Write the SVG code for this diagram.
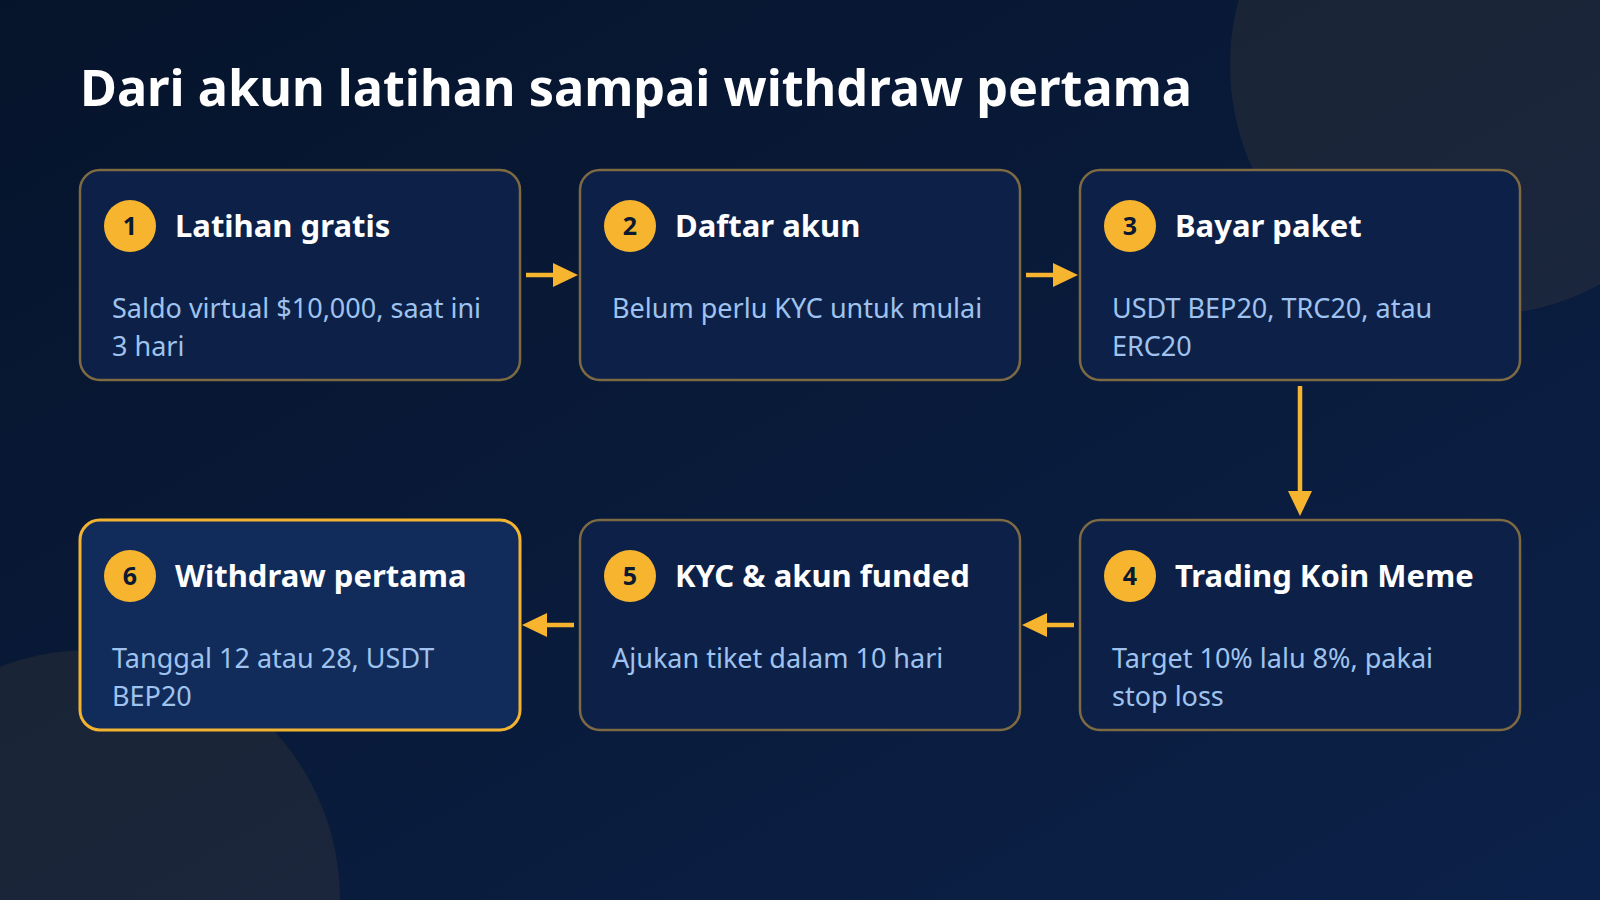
<svg xmlns="http://www.w3.org/2000/svg" width="1600" height="900" viewBox="0 0 1600 900">
  <defs>
    <linearGradient id="bg" x1="0" y1="0" x2="1" y2="1">
      <stop offset="0" stop-color="#06142b"/>
      <stop offset="1" stop-color="#0c2149"/>
    </linearGradient>
    <marker id="ah" viewBox="0 0 25 24" markerUnits="userSpaceOnUse" markerWidth="25" markerHeight="24" refX="0" refY="12" orient="auto">
      <path d="M0,0 L25,12 L0,24 Z" fill="#f6b42f"/>
    </marker>
    <style>
      .title { font-family: "Noto Sans", "Open Sans", sans-serif; font-weight: 700; font-size: 50.4px; fill: #ffffff; }
      .box { fill: #0d2148; stroke: #7d6a42; stroke-width: 2.5; }
      .box.final { fill: #112c5a; stroke: #f2b330; stroke-width: 3; }
      .badge { fill: #f6b42f; }
      .num { font-family: "Noto Sans", sans-serif; font-weight: 700; font-size: 25px; fill: #0b1a30; text-anchor: middle; }
      .head { font-family: "Noto Sans", sans-serif; font-weight: 700; font-size: 31px; fill: #ffffff; }
      .body { font-family: "Noto Sans", sans-serif; font-weight: 400; font-size: 27px; fill: #9fc3ee; }
      .conn { stroke: #f6b42f; stroke-width: 4.5; fill: none; marker-end: url(#ah); }
      .deco { fill: #f6b42f; fill-opacity: 0.075; }
    </style>
  </defs>

  <rect width="1600" height="900" fill="url(#bg)"/>
  <circle class="deco" cx="1480" cy="65" r="250"/>
  <circle class="deco" cx="90" cy="900" r="250"/>

  <text class="title" x="80" y="106">Dari akun latihan sampai withdraw pertama</text>

  <g id="connectors">
    <path class="conn" d="M526,275 L553,275"/>
    <path class="conn" d="M1026,275 L1053,275"/>
    <path class="conn" d="M1300,386 L1300,491"/>
    <path class="conn" d="M1074,625 L1047,625"/>
    <path class="conn" d="M574,625 L547,625"/>
  </g>

  <g id="node1">
    <rect class="box" x="80" y="170" width="440" height="210" rx="20"/>
    <circle class="badge" cx="130" cy="226" r="26"/>
    <text class="num" x="130" y="235">1</text>
    <text class="head" x="175" y="237">Latihan gratis</text>
    <text class="body" x="112" y="318">Saldo virtual $10,000, saat ini</text>
    <text class="body" x="112" y="356">3 hari</text>
  </g>

  <g id="node2">
    <rect class="box" x="580" y="170" width="440" height="210" rx="20"/>
    <circle class="badge" cx="630" cy="226" r="26"/>
    <text class="num" x="630" y="235">2</text>
    <text class="head" x="675" y="237">Daftar akun</text>
    <text class="body" x="612" y="318">Belum perlu KYC untuk mulai</text>
  </g>

  <g id="node3">
    <rect class="box" x="1080" y="170" width="440" height="210" rx="20"/>
    <circle class="badge" cx="1130" cy="226" r="26"/>
    <text class="num" x="1130" y="235">3</text>
    <text class="head" x="1175" y="237">Bayar paket</text>
    <text class="body" x="1112" y="318">USDT BEP20, TRC20, atau</text>
    <text class="body" x="1112" y="356">ERC20</text>
  </g>

  <g id="node4">
    <rect class="box" x="1080" y="520" width="440" height="210" rx="20"/>
    <circle class="badge" cx="1130" cy="576" r="26"/>
    <text class="num" x="1130" y="585">4</text>
    <text class="head" x="1175" y="587">Trading Koin Meme</text>
    <text class="body" x="1112" y="668">Target 10% lalu 8%, pakai</text>
    <text class="body" x="1112" y="706">stop loss</text>
  </g>

  <g id="node5">
    <rect class="box" x="580" y="520" width="440" height="210" rx="20"/>
    <circle class="badge" cx="630" cy="576" r="26"/>
    <text class="num" x="630" y="585">5</text>
    <text class="head" x="675" y="587">KYC &amp; akun funded</text>
    <text class="body" x="612" y="668">Ajukan tiket dalam 10 hari</text>
  </g>

  <g id="node6">
    <rect class="box final" x="80" y="520" width="440" height="210" rx="20"/>
    <circle class="badge" cx="130" cy="576" r="26"/>
    <text class="num" x="130" y="585">6</text>
    <text class="head" x="175" y="587">Withdraw pertama</text>
    <text class="body" x="112" y="668">Tanggal 12 atau 28, USDT</text>
    <text class="body" x="112" y="706">BEP20</text>
  </g>
</svg>
